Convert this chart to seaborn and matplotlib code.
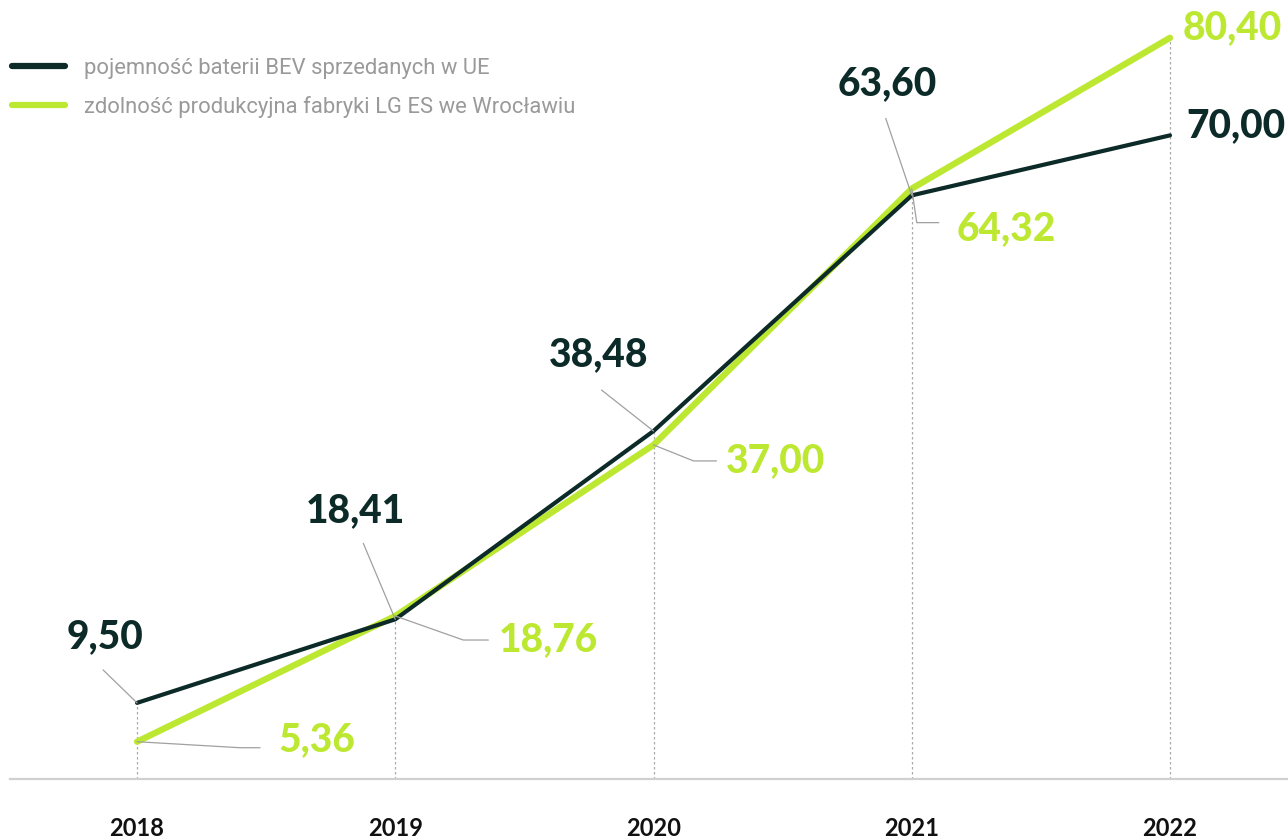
import matplotlib
matplotlib.use("Agg")
import matplotlib.pyplot as plt
import matplotlib.transforms as mtransforms
from matplotlib.lines import Line2D
import seaborn as sns
import pandas as pd

years = [2018, 2019, 2020, 2021, 2022]
bev_capacity = [9.50, 18.41, 38.48, 63.60, 70.00]
lg_capacity = [5.36, 18.76, 37.00, 64.32, 80.40]
series_names = ["pojemność baterii BEV sprzedanych w UE",
                "zdolność produkcyjna fabryki LG ES we Wrocławiu"]
year_labels = ["2018", "2019", "2020", "2021", "2022"]

DARK = "#0c2b28"
GREEN = "#bde832"
GREY_TXT = "#9a9a9a"

sns.set_theme(style="white")
plt.rcParams['font.family'] = ['Lato', 'DejaVu Sans']

df = pd.DataFrame({
    "year": years * 2,
    "value": bev_capacity + lg_capacity,
    "series": [series_names[0]] * 5 + [series_names[1]] * 5,
})

fig = plt.figure(figsize=(12.88, 8.38), dpi=100)
ax = fig.add_axes([10 / 1288, 59 / 838, 1278 / 1288, 779 / 838])

sns.lineplot(data=df[df.series == series_names[1]], x="year", y="value",
             color=GREEN, linewidth=4.6, ax=ax, legend=False,
             solid_capstyle="round", solid_joinstyle="round", zorder=3)
sns.lineplot(data=df[df.series == series_names[0]], x="year", y="value",
             color=DARK, linewidth=3.0, ax=ax, legend=False,
             solid_capstyle="round", solid_joinstyle="round", zorder=4)

ax.set_xlim(2017.508, 2022.457)
ax.set_ylim(1.386, 84.43)
ax.set_xlabel("")
ax.set_ylabel("")
ax.set_yticks([])
ax.set_xticks(years)
ax.set_xticklabels(year_labels, fontsize=17, fontweight="bold", color="#111111")
ax.tick_params(axis="x", length=0, pad=27)
for s in ["top", "left", "right"]:
    ax.spines[s].set_visible(False)
ax.spines["bottom"].set_color("#d0d0d0")
ax.spines["bottom"].set_linewidth(1.6)

# dotted guide lines
for x, a, b in zip(years, bev_capacity, lg_capacity):
    ax.vlines(x, 1.386, max(a, b), colors="#aaaaaa", linewidth=0.9,
              linestyles=(0, (2, 2)), zorder=1)

fig.canvas.draw()
def disp(x, y):
    return ax.transData.transform((x, y))

label_specs = [
    (bev_capacity[0], 0, DARK, (-32, -66), "center", [(-34, -33), (0, 0)]),
    (lg_capacity[0], 0, GREEN, (141, -2), "left", [(0, 0), (103, 6), (123, 6)]),
    (bev_capacity[1], 1, DARK, (-40, -109), "center", [(-32, -76), (0, 0)]),
    (lg_capacity[1], 1, GREEN, (103, 24), "left", [(0, 0), (68, 24), (93, 24)]),
    (bev_capacity[2], 2, DARK, (-55, -76), "center", [(-52, -41), (0, 0)]),
    (lg_capacity[2], 2, GREEN, (72, 16), "left", [(0, 0), (40, 16), (63, 16)]),
    (bev_capacity[3], 3, DARK, (-25, -112), "center", [(-26, -77), (0, 0)]),
    (lg_capacity[3], 3, GREEN, (45, 40), "left", [(0, 0), (5, 34), (27, 34)]),
    (bev_capacity[4], 4, DARK, (16, -10), "left", None),
    (lg_capacity[4], 4, GREEN, (13, -10), "left", None),
]
for val, i, col, (dx, dy), ha, leader in label_specs:
    txt = f"{val:.2f}".replace(".", ",")
    ax.annotate(txt, xy=(years[i], val), xytext=(dx, -dy),
                textcoords="offset pixels", ha=ha, va="center",
                fontsize=28, fontweight="black", color=col, zorder=6)
    if leader:
        px, py = disp(years[i], val)
        xs = [px + ox for ox, oy in leader]
        ys = [py - oy for ox, oy in leader]
        ax.add_line(Line2D(xs, ys, transform=mtransforms.IdentityTransform(),
                           color="#a0a0a0", linewidth=0.9, zorder=5))

handles = [Line2D([], [], color=DARK, linewidth=4.5, solid_capstyle="round"),
           Line2D([], [], color=GREEN, linewidth=4.5, solid_capstyle="round")]
leg = fig.legend(handles, series_names, loc="upper left",
                 bbox_to_anchor=(12 / 1288, 1 - 58 / 838), frameon=False,
                 fontsize=15.8, handlelength=2.42, handletextpad=0.87,
                 labelspacing=0.78, borderpad=0, borderaxespad=0)
for t in leg.get_texts():
    t.set_color(GREY_TXT)
    t.set_family(["Roboto", "DejaVu Sans"])

fig.savefig("out.png", dpi=100)
